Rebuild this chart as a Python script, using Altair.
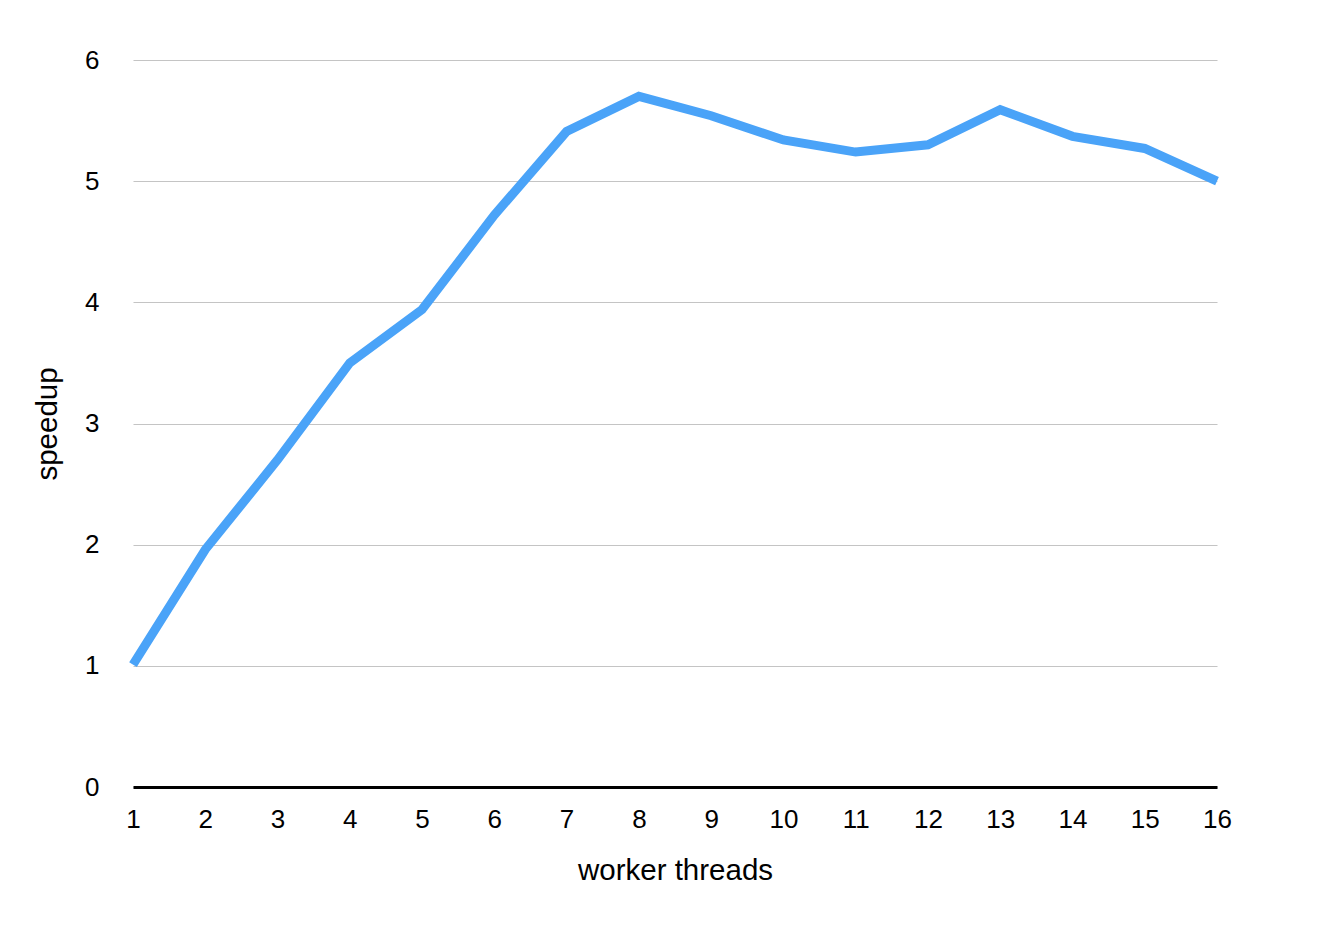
import altair as alt
import pandas as pd

threads = list(range(1, 17))
speedup = [1.01, 1.96, 2.70, 3.50, 3.94, 4.72, 5.41, 5.70,
           5.54, 5.34, 5.24, 5.30, 5.59, 5.37, 5.27, 5.00]

source = pd.DataFrame({"threads": threads, "speedup": speedup})

chart = alt.Chart(source).mark_line(
    color="#4aa3f8",
    strokeWidth=9,
    strokeCap="butt",
    strokeJoin="miter"
).encode(
    x=alt.X("threads:Q",
        scale=alt.Scale(domain=[1, 16], nice=False, zero=False),
        axis=alt.Axis(
            title="worker threads",
            values=threads,
            format="d",
            grid=False,
            ticks=False,
            labelFlush=False,
            domainColor="black",
            domainWidth=3,
            labelPadding=19,
            titlePadding=24,
        )),
    y=alt.Y("speedup:Q",
        scale=alt.Scale(domain=[0, 6], nice=False),
        axis=alt.Axis(
            title="speedup",
            values=[0, 1, 2, 3, 4, 5, 6],
            grid=True,
            gridColor="#c4c4c4",
            gridWidth=1.2,
            domain=False,
            ticks=False,
            labelPadding=34,
            titlePadding=22,
        )),
).properties(
    width=1084,
    height=727,
    autosize=alt.AutoSizeParams(type="none"),
    padding={"left": 125, "top": 52, "right": 100, "bottom": 120},
).configure_axis(
    labelFont="Liberation Sans",
    titleFont="Liberation Sans",
    labelFontSize=26,
    titleFontSize=29.5,
    titleFontWeight="normal",
    labelColor="black",
    titleColor="black",
).configure_view(
    stroke=None
)

chart.save("out.html", embed_options={"renderer": "svg", "actions": False})
